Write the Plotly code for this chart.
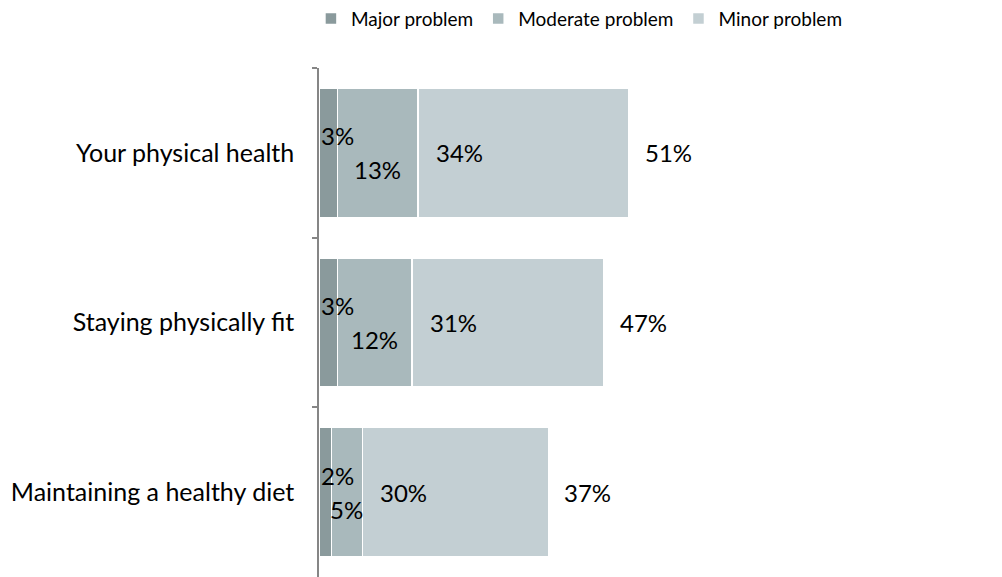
import plotly.graph_objects as go

categories = ["Your physical health", "Staying physically fit", "Maintaining a healthy diet"]
major = [3, 3, 2]
moderate = [13, 12, 5]
minor = [34, 31, 30]
totals = [51, 47, 37]
series_names = ["Major problem", "Moderate problem", "Minor problem"]
colors = ["#8a9a9c", "#a9b9bc", "#c3cfd3"]

FONT = "Lato"
fig = go.Figure()
for name, vals, col in zip(series_names, [major, moderate, minor], colors):
    fig.add_trace(go.Bar(
        y=categories, x=vals, name=name, orientation="h",
        marker=dict(color=col, line=dict(color="white", width=1.5)),
        hoverinfo="skip",
    ))

ann = []
for i, cat in enumerate(categories):
    ann.append(dict(x=0, y=cat, text=f"{major[i]}%", xanchor="left", yanchor="middle",
                    xshift=0, yshift=17, showarrow=False))
    ann.append(dict(x=major[i] + moderate[i] / 2, y=cat, text=f"{moderate[i]}%",
                    xanchor="center", yanchor="middle", yshift=-17, showarrow=False))
    ann.append(dict(x=major[i] + moderate[i], y=cat, text=f"{minor[i]}%",
                    xanchor="left", yanchor="middle", xshift=16, showarrow=False))
    ann.append(dict(x=major[i] + moderate[i] + minor[i], y=cat, text=f"{totals[i]}%",
                    xanchor="left", yanchor="middle", xshift=14, showarrow=False))

# page body has an 8px default margin, so the figure is sized/offset to compensate
fig.update_layout(
    barmode="stack",
    bargap=0.24,
    width=994, height=569,
    margin=dict(l=311, r=63, t=60, b=0, autoexpand=False),
    paper_bgcolor="white", plot_bgcolor="white",
    font=dict(family=FONT, size=24, color="#000000"),
    annotations=ann,
    showlegend=True,
    legend=dict(orientation="h", x=-0.013, y=1.097, xanchor="left", yanchor="middle",
                font=dict(size=19, family=FONT), traceorder="normal"),
    xaxis=dict(range=[0, 100], visible=False, fixedrange=True),
    yaxis=dict(type="category", categoryarray=categories, range=[2.5, -0.5],
               showline=True, linecolor="#868686", linewidth=1.5,
               ticks="outside", tickson="boundaries", ticklen=5, tickcolor="#868686",
               tickwidth=1.5, ticklabelstandoff=18, showgrid=False,
               tickfont=dict(size=25, family=FONT)),
)

fig.write_html("out.html")
